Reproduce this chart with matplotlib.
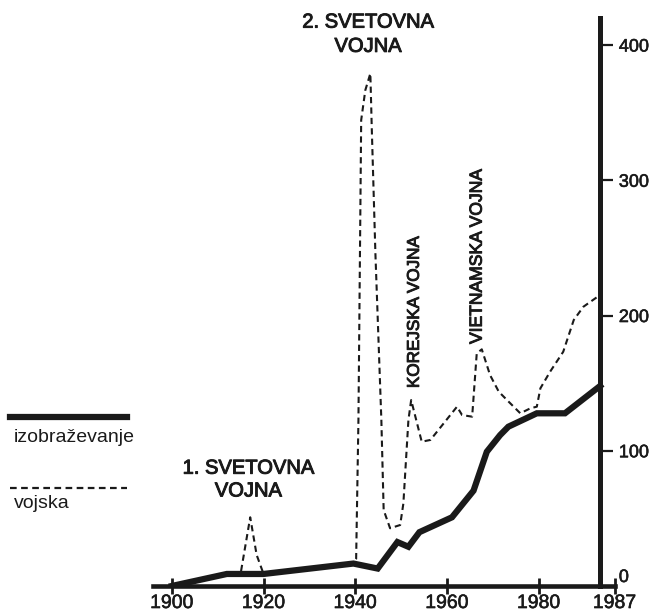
import numpy as np
import matplotlib.pyplot as plt
import matplotlib.patheffects as pe
from matplotlib.lines import Line2D

# izobrazevanje (solid) and vojska (dashed)
edu_years = [1900, 1912, 1920, 1939.6, 1944.9, 1949.2, 1951.6, 1954, 1961.1,
             1965.8, 1968.7, 1971.6, 1973.4, 1979.6, 1983, 1987]
edu_vals = [0, 8.9, 8.9, 16.6, 12.9, 32.5, 29, 39.8, 50.8,
            70.5, 99.3, 111.6, 117.8, 127.7, 127.7, 147.9]

mil_years = [1900, 1912, 1915, 1917.1, 1918.5, 1920, 1939.6, 1940.2, 1940.7,
             1941.3, 1942.2, 1943.3, 1943.6, 1944.4, 1945.7, 1946.2, 1947.6,
             1949.8, 1950.5, 1951.6, 1952.2, 1954.5, 1956.4, 1962.2, 1963.3,
             1965.5, 1966.5, 1967.6, 1969.4, 1971.3, 1973.1, 1976, 1978.2,
             1979.6, 1980.2, 1981.3, 1982.8, 1984.0, 1985.1, 1987]
mil_vals = [0, 8.9, 9, 50.8, 23, 9, 16.6, 20, 122.7,
            344.5, 366.6, 379, 339.6, 246, 122.7, 56.2, 42.7,
            45.1, 61, 122.7, 137.5, 106.7, 108, 132.6, 126.4,
            125.2, 172, 175, 156, 143.7, 137.5, 127.7, 131.4,
            132.6, 146.2, 158.4, 173.2, 196.7, 206.5, 215.2]

x_ticks = [1900, 1920, 1940, 1960, 1980]
y_ticks = [0, 100, 200, 300, 400]

ink = '#1a1a1a'
tick_font = ['Liberation Sans', 'DejaVu Sans']
heavy = [pe.withStroke(linewidth=0.7, foreground=ink)]

# the last seven years are drawn wider than the rest in the original
k = 1.914
def fwd(x):
    x = np.asarray(x, dtype=float)
    return np.where(x <= 1980, x, 1980 + (x - 1980) * k)
def inv(x):
    x = np.asarray(x, dtype=float)
    return np.where(x <= 1980, x, 1980 + (x - 1980) / k)

fig = plt.figure(figsize=(6.56, 6.11), dpi=100)
ax = fig.add_axes([153/656, 25/611, (615-153)/656, (586-18)/611])
ax.set_xscale('function', functions=(fwd, inv))
x_end = 1988.7
ax.set_xlim(1895.9, x_end)
ax.set_ylim(0, 420)

ax.plot(mil_years, mil_vals, color=ink, lw=1.5, dashes=(3, 2))
ax.plot(edu_years, edu_vals, color=ink, lw=4.5, solid_joinstyle='miter')

for s in ['top', 'left']:
    ax.spines[s].set_visible(False)
ax.spines['bottom'].set_linewidth(3.3)
ax.spines['bottom'].set_color(ink)
ax.spines['right'].set_position(('data', 1987))
ax.spines['right'].set_linewidth(3.6)
ax.spines['right'].set_color(ink)

ax.set_xticks(x_ticks + [x_end - 0.05])
ax.set_xticklabels([str(t) for t in x_ticks] + ['1987'], family=tick_font, fontsize=14, color=ink)
ax.tick_params(axis='x', direction='inout', length=11, width=2, color=ink, pad=1)

ax.yaxis.tick_right()
ax.set_yticks(y_ticks)
ax.set_yticklabels([str(t) for t in y_ticks], family=tick_font, fontsize=13, color=ink)
ax.tick_params(axis='y', direction='out', length=9.5, width=1.6, color=ink, pad=4)
ax.yaxis.get_major_ticks()[0].tick2line.set_visible(False)
ax.yaxis.get_major_ticks()[0].label2.set_va('bottom')
for lab in ax.get_xticklabels() + ax.get_yticklabels():
    lab.set_path_effects([pe.withStroke(linewidth=0.4, foreground=ink)])

ax.text(1942.8, 408, '2. SVETOVNA\nVOJNA', ha='center', va='center', family=tick_font,
        fontsize=14.5, color=ink, linespacing=1.35, path_effects=heavy)
ax.text(1916.7, 78.7, '1. SVETOVNA\nVOJNA', ha='center', va='center', family=tick_font,
        fontsize=14.5, color=ink, linespacing=1.25, path_effects=heavy)
ax.text(1952.9, 202.6, 'KOREJSKA VOJNA', rotation=90, ha='center', va='center',
        family=tick_font, fontsize=12.3, color=ink, path_effects=heavy)
ax.text(1966.6, 243.3, 'VIETNAMSKA VOJNA', rotation=90, ha='center', va='center',
        family=tick_font, fontsize=12.6, color=ink, path_effects=heavy)

# legend drawn by hand: line above its label
fig.add_artist(Line2D([10/656, 127/656], [(611-417)/611]*2, color=ink, lw=4.5))
fig.text(14/656, (611-437)/611, 'izobraževanje', family=tick_font, fontsize=14,
         color=ink, va='center')
fig.add_artist(Line2D([10/656, 127/656], [(611-488)/611]*2, color=ink, lw=1.6, dashes=(3, 2)))
fig.text(14/656, (611-503)/611, 'vojska', family=tick_font, fontsize=14,
         color=ink, va='center')

plt.savefig('out.png', dpi=100)
